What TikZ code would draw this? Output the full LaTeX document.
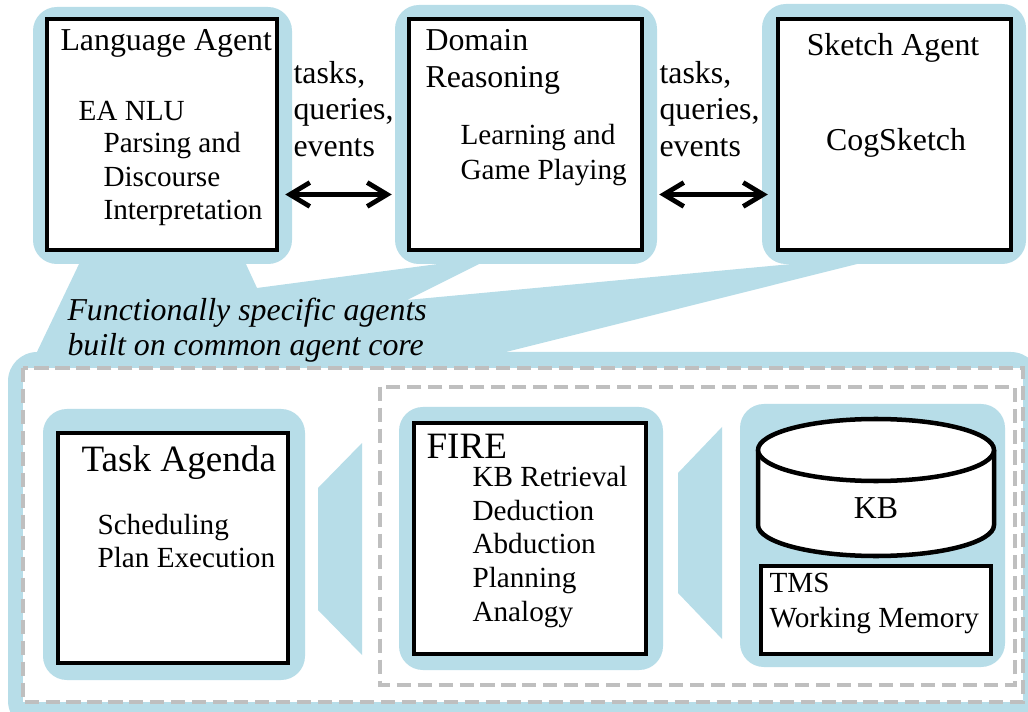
\documentclass[tikz,border=0pt]{standalone}
\usepackage{fontspec}
\setmainfont{LiberationSerif}[Extension=.ttf, UprightFont=*-Regular, BoldFont=*-Bold,
  ItalicFont=*-Italic, BoldItalicFont=*-BoldItalic]
\usepackage{tikz}
\usetikzlibrary{arrows.meta,calc}

\definecolor{paleblue}{HTML}{B7DDE8}
\definecolor{dashgray}{HTML}{BFBFBF}
\newcommand{\pxu}{0.3767pt}

\tikzset{
  halo/.style={fill=paleblue, rounded corners=9pt},
  agentbox/.style={draw, line width=1.7pt, fill=white, inner sep=0pt},
  bodytext/.style={font=\fontsize{11}{12.6}\selectfont, align=left, inner sep=0pt, anchor=west},
  headtext/.style={font=\fontsize{12}{13.8}\selectfont, align=left, inner sep=0pt, anchor=west},
  bigtext/.style={font=\fontsize{14}{16}\selectfont, inner sep=0pt, anchor=west},
  link/.style={line width=1.8pt, {Straight Barb[length=7.5pt,width=9pt]}-{Straight Barb[length=7.5pt,width=9pt]}},
  gapline/.style={draw=dashgray, line width=1.5pt, dash pattern=on 5.3pt off 2.6pt},
}

\begin{document}
\begin{tikzpicture}[x=\pxu, y=-\pxu]
\useasboundingbox (0,0) rectangle (1028,712);

% common agent core, with the callout up to the three agents
\fill[paleblue, rounded corners=11pt] (8,352) rectangle (1040,730);
\fill[paleblue] (80,262) -- (245,262) -- (257,288) -- (453,262) -- (483,262)
  -- (407,300) -- (813,262) -- (865,262) -- (490,356) -- (35,356) -- cycle;
\fill[white] (23,368) rectangle (1023,702);
\draw[gapline] (23,368) rectangle (1023,702);
\draw[gapline] (380,387) rectangle (1015,685);

% halos behind the boxes
\fill[halo] (33,7) rectangle (292,264);
\fill[halo] (395,5) rectangle (657,264);
\fill[halo] (762,4) rectangle (1026,264);
\fill[halo] (43,409) rectangle (305,680);
\fill[halo] (399,407) rectangle (663,670);
\fill[halo] (740,404) rectangle (1005,667);

% wedges between the core parts
\fill[paleblue] (318,488) -- (362,443) -- (362,655) -- (318,610) -- cycle;
\fill[paleblue] (678,473) -- (722,427) -- (722,639) -- (678,593) -- cycle;

% agents
\node[agentbox, minimum width=230*\pxu, minimum height=231*\pxu] (lang) at (162,134.5) {};
\node[agentbox, minimum width=233*\pxu, minimum height=231*\pxu] (domain) at (525.5,134.5) {};
\node[agentbox, minimum width=233*\pxu, minimum height=231*\pxu] (sketch) at (894.5,134.5) {};

\node[headtext] (langname) at (60,43) {Language Agent};
\node[bodytext] (nlu) at (78,111) {EA NLU};
\node[bodytext] (nluparts) at (103,179) {Parsing and\\Discourse\\Interpretation};
\node[headtext, font=\fontsize{12}{13.9}\selectfont] (domainname) at (425,62) {Domain\\Reasoning};
\node[bodytext, font=\fontsize{11}{13.2}\selectfont] (games) at (460,155.5) {Learning and\\Game Playing};
\node[headtext, anchor=center] (sketchname) at (893,48) {Sketch Agent};
\node[headtext, anchor=center] (cogsketch) at (896,143) {CogSketch};

% messages between agents
\node[headtext] (msgleft) at (293,109) {tasks,\\queries,\\events};
\node[headtext] (msgright) at (659,109) {tasks,\\queries,\\events};
\draw[link] ($(lang.east)+(6,60)$) -- ($(domain.west)+(-15,60)$);
\draw[link] ($(domain.east)+(15,60)$) -- ($(sketch.west)+(-8,60)$);

\node[headtext, font=\fontsize{12}{13.2}\selectfont\itshape] (core) at (67,330)
  {Functionally specific agents\\built on common agent core};

% core parts
\node[agentbox, minimum width=230*\pxu, minimum height=230*\pxu] (agenda) at (173,548) {};
\node[agentbox, minimum width=232*\pxu, minimum height=231*\pxu] (fire) at (530,538.5) {};
\node[agentbox, minimum width=230*\pxu, minimum height=88*\pxu] (tms) at (876,610) {};

\node[bigtext] (agendaname) at (81,463) {Task Agenda};
\node[bodytext] (agendaparts) at (97,541) {Scheduling\\Plan Execution};
\node[bigtext] (firename) at (426,446) {FIRE};
\node[bodytext, font=\fontsize{11}{12.7}\selectfont] (fireparts) at (472,547)
  {KB Retrieval\\Deduction\\Abduction\\Planning\\Analogy};
\node[bodytext, font=\fontsize{11}{13.2}\selectfont] (tmsparts) at (769,603.5) {TMS\\Working Memory};

% knowledge base drum
\draw[line width=1.7pt, fill=white] (758,450) -- (758,525)
  arc[start angle=180, end angle=0, x radius=118, y radius=31] -- (994,450);
\draw[line width=1.7pt, fill=white] (876,450) ellipse[x radius=118, y radius=31];
\node[headtext, anchor=center] (kb) at (876,508) {KB};
\end{tikzpicture}
\end{document}
